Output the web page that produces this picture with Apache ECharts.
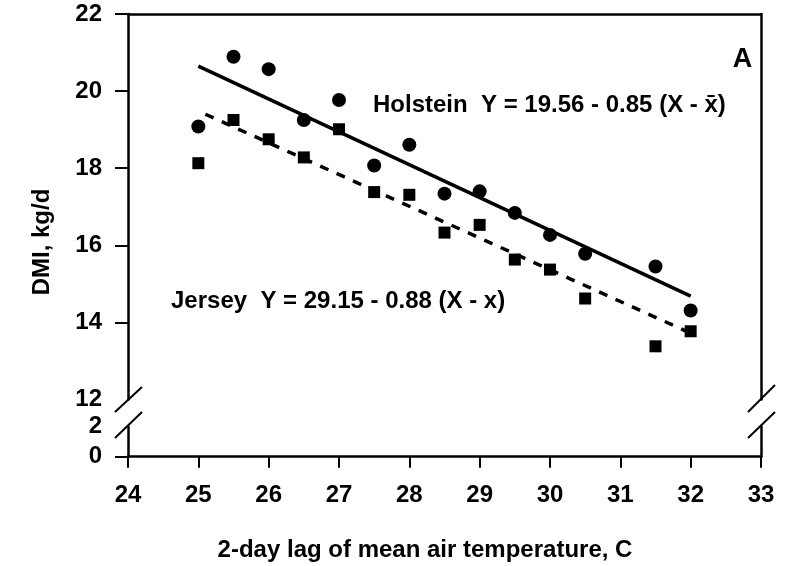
<!DOCTYPE html>
<html>
<head>
<meta charset="utf-8">
<script src="https://cdn.jsdelivr.net/npm/echarts@6/dist/echarts.min.js"></script>
<style>
  html, body { margin: 0; padding: 0; background: #fff; }
  #chart { width: 795px; height: 566px; }
</style>
</head>
<body>
<div id="chart"></div>
<script>
// 2-day lag of mean air temperature (C)
const temps = [25, 25.5, 26, 26.5, 27, 27.5, 28, 28.5, 29, 29.5, 30, 30.5, 31.5, 32];
// Dry matter intake, kg/d
const holsteinDMI = [19.08, 20.89, 20.57, 19.25, 19.77, 18.07, 18.61, 17.34, 17.40, 16.84, 16.27, 15.78, 15.45, 14.31];
const jerseyDMI = [18.13, 19.25, 18.75, 18.28, 19.01, 17.38, 17.31, 16.33, 16.53, 15.63, 15.37, 14.62, 13.38, 13.77];

// Fitted regression lines (end points)
const holsteinFitX = [25, 32];
const holsteinFitY = [20.65, 14.68];
const jerseyFitX = [25.1, 32];
const jerseyFitY = [19.40, 13.72];

// Axis ticks
const xTicks = [24, 25, 26, 27, 28, 29, 30, 31, 32, 33];
const yUpperTicks = [12, 14, 16, 18, 20, 22];
const yLowerTicks = [0, 2];

const holsteinLabel = 'Holstein  Y = 19.56 - 0.85 (X - x\u0304)';
const jerseyLabel = 'Jersey  Y = 29.15 - 0.88 (X - x)';
const panelLabel = 'A';
const xTitle = '2-day lag of mean air temperature, C';
const yTitle = 'DMI, kg/d';

const FONT = '"Liberation Sans", Arial, sans-serif';
const INK = '#000';

const pairs = (xs, ys) => xs.map((x, i) => [x, ys[i]]);

const lineOnly = (gridIndex, position, min, max) => ({
  type: 'value', gridIndex, position, min, max,
  axisLine: { show: true, onZero: false, lineStyle: { color: INK, width: 2.5 } },
  axisTick: { show: false }, axisLabel: { show: false }, splitLine: { show: false }
});

const tickLabel = { color: INK, fontFamily: FONT, fontWeight: 'bold', fontSize: 24 };

const chart = echarts.init(document.getElementById('chart'), null, { renderer: 'canvas' });

chart.setOption({
  animation: false,
  backgroundColor: '#fff',
  grid: [
    { left: 128, right: 34, top: 14, height: 385.5 },
    { left: 128, right: 34, top: 426.7, height: 30 }
  ],
  xAxis: [
    lineOnly(0, 'top', xTicks[0], xTicks[xTicks.length - 1]),
    {
      type: 'value', gridIndex: 1, position: 'bottom',
      min: xTicks[0], max: xTicks[xTicks.length - 1], interval: 1,
      axisLine: { show: true, onZero: false, lineStyle: { color: INK, width: 2.5 } },
      axisTick: { show: true, inside: false, length: 11, lineStyle: { color: INK, width: 2 } },
      axisLabel: Object.assign({ margin: 27, customValues: xTicks }, tickLabel),
      splitLine: { show: false }
    }
  ],
  yAxis: [
    {
      type: 'value', gridIndex: 0, position: 'left',
      min: yUpperTicks[0], max: yUpperTicks[yUpperTicks.length - 1], interval: 2,
      axisLine: { show: true, onZero: false, lineStyle: { color: INK, width: 2.5 } },
      axisTick: { show: true, length: 13, customValues: yUpperTicks.slice(1), lineStyle: { color: INK, width: 2 } },
      axisLabel: Object.assign({ margin: 26, customValues: yUpperTicks }, tickLabel),
      splitLine: { show: false }
    },
    lineOnly(0, 'right', yUpperTicks[0], yUpperTicks[yUpperTicks.length - 1]),
    {
      type: 'value', gridIndex: 1, position: 'left',
      min: yLowerTicks[0], max: yLowerTicks[yLowerTicks.length - 1], interval: 2,
      axisLine: { show: true, onZero: false, lineStyle: { color: INK, width: 2.5 } },
      axisTick: { show: true, length: 13, customValues: [yLowerTicks[0]], lineStyle: { color: INK, width: 2 } },
      axisLabel: Object.assign({ margin: 26, customValues: yLowerTicks }, tickLabel),
      splitLine: { show: false }
    },
    lineOnly(1, 'right', yLowerTicks[0], yLowerTicks[yLowerTicks.length - 1])
  ],
  series: [
    {
      name: 'Holstein fit', type: 'line', xAxisIndex: 0, yAxisIndex: 0,
      data: pairs(holsteinFitX, holsteinFitY), showSymbol: false, symbol: 'none',
      lineStyle: { color: INK, width: 3.5 }, z: 2
    },
    {
      name: 'Jersey fit', type: 'line', xAxisIndex: 0, yAxisIndex: 0,
      data: pairs(jerseyFitX, jerseyFitY), showSymbol: false, symbol: 'none',
      lineStyle: { color: INK, width: 3.5, type: [9, 9] }, z: 2
    },
    {
      name: 'Holstein', type: 'scatter', xAxisIndex: 0, yAxisIndex: 0,
      data: pairs(temps, holsteinDMI), symbol: 'circle', symbolSize: 14,
      itemStyle: { color: INK, opacity: 1 }, z: 3
    },
    {
      name: 'Jersey', type: 'scatter', xAxisIndex: 0, yAxisIndex: 0,
      data: pairs(temps, jerseyDMI), symbol: 'rect', symbolSize: 12,
      itemStyle: { color: INK, opacity: 1 }, z: 3
    }
  ],
  graphic: [
    // axis break marks
    { type: 'line', shape: { x1: 115, y1: 412, x2: 142, y2: 387 }, style: { stroke: INK, lineWidth: 2 } },
    { type: 'line', shape: { x1: 115, y1: 438, x2: 142, y2: 412 }, style: { stroke: INK, lineWidth: 2 } },
    { type: 'line', shape: { x1: 748, y1: 412, x2: 775, y2: 385 }, style: { stroke: INK, lineWidth: 2 } },
    { type: 'line', shape: { x1: 748, y1: 438, x2: 775, y2: 412 }, style: { stroke: INK, lineWidth: 2 } },
    // annotations
    { type: 'text', x: 373, y: 105, style: { text: holsteinLabel, fill: INK, font: 'bold 24px ' + FONT, verticalAlign: 'middle' } },
    { type: 'text', x: 171, y: 301, style: { text: jerseyLabel, fill: INK, font: 'bold 24px ' + FONT, verticalAlign: 'middle' } },
    { type: 'text', x: 742.5, y: 60, style: { text: panelLabel, fill: INK, font: 'bold 27px ' + FONT, align: 'center', verticalAlign: 'middle' } },
    // axis titles
    { type: 'text', x: 425, y: 550, style: { text: xTitle, fill: INK, font: 'bold 24px ' + FONT, align: 'center', verticalAlign: 'middle' } },
    { type: 'text', x: 42, y: 242, rotation: Math.PI / 2, style: { text: yTitle, fill: INK, font: 'bold 24px ' + FONT, align: 'center', verticalAlign: 'middle' } }
  ]
});
</script>
</body>
</html>
